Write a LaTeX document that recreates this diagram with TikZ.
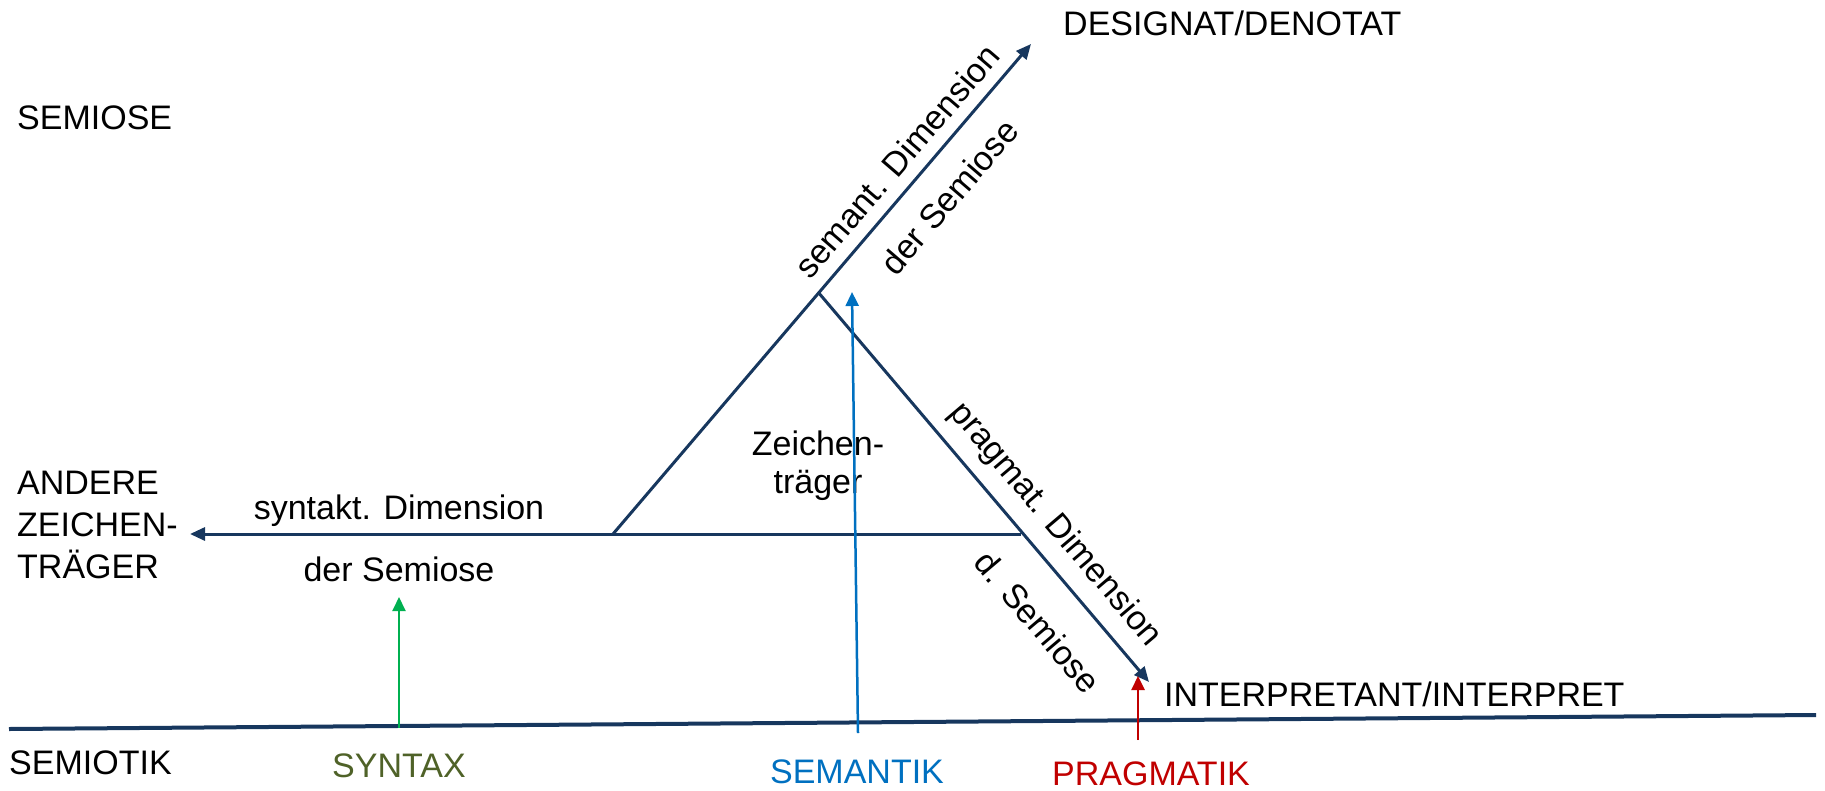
\documentclass[tikz,border=0pt]{standalone}
\usepackage{fontspec}
\setmainfont{Liberation Sans}
\usetikzlibrary{arrows.meta}
\definecolor{navy}{RGB}{23,55,94}
\definecolor{olivetxt}{RGB}{79,98,40}
\definecolor{sblue}{RGB}{0,112,192}
\definecolor{sred}{RGB}{192,0,0}
\definecolor{sgreen}{RGB}{0,176,80}
\begin{document}
\begin{tikzpicture}[x=1pt,y=-1pt,
  lbl/.style={font=\fontsize{34}{42}\selectfont, inner sep=0pt},
  mainline/.style={draw=navy, line width=3pt},
  navyarrow/.style={mainline, -{Triangle[length=15pt,width=13pt]}},
  colarrow/.style={line width=2.5pt, -{Triangle[length=14pt,width=13pt]}}]
\useasboundingbox (0,0) rectangle (1825,790);
% geometry
\coordinate (BL) at (613,534);
\coordinate (A) at (818,292);
\coordinate (BR) at (1021,534);
\coordinate (D) at (1031,44);
\coordinate (I) at (1149,682);
\coordinate (Z) at (190,534);
\coordinate (L0) at (9,729);
\coordinate (L1) at (1816,715);
% triangle and dimension arrows
\draw[navyarrow] (BL) -- (D);
\draw[navyarrow] (A) -- (I);
\draw[navyarrow] (BR) -- (Z);
% semiotik baseline
\draw[draw=navy, line width=4pt] (L0) -- (L1);
% texts
\node[lbl, anchor=base west] (semiose) at (17,129) {SEMIOSE};
\node[lbl, anchor=base west] (designat) at (1063,35) {DESIGNAT/DENOTAT};
\node[lbl, anchor=north west, align=left] (andere) at (17,471) {ANDERE\\ZEICHEN-\\TRÄGER};
\node[lbl, anchor=base] (syntdim) at (399,519) {syntakt. Dimension};
\node[lbl, anchor=base] (syntsem) at (399,581) {der Semiose};
\node[lbl, anchor=base] (zeichen1) at (818,455) {Zeichen-};
\node[lbl, anchor=base] (zeichen2) at (818,493) {träger};
\node[lbl, anchor=base west] (interp) at (1164,706) {INTERPRETANT/INTERPRET};
\node[lbl, anchor=base west] (semiotik) at (9,774) {SEMIOTIK};
\node[lbl, anchor=base, text=olivetxt] (syntax) at (399,777) {SYNTAX};
\node[lbl, anchor=base, text=sblue] (semantik) at (857,783) {SEMANTIK};
\node[lbl, anchor=base, text=sred] (pragmatik) at (1151,785) {PRAGMATIK};
% rotated labels
\node[lbl, rotate=49.35] (semdim) at (897,161) {semant. Dimension};
\node[lbl, rotate=49.35] (semsem) at (949,197) {der Semiose};
\node[lbl, rotate=-49.7] (pragdim) at (1055,525) {pragmat. Dimension};
\node[lbl, rotate=-49.7] (pragsem) at (1038,622) {d. Semiose};
% coloured arrows
\coordinate (gS) at (399,728);
\coordinate (gT) at (399,597);
\coordinate (bS) at (858,733);
\coordinate (bT) at (852,292);
\coordinate (rS) at (1138,740);
\coordinate (rT) at (1138,676);
\draw[colarrow, draw=sgreen, fill=sgreen, line width=2pt] (gS) -- (gT);
\draw[colarrow, draw=sblue, fill=sblue] (bS) -- (bT);
\draw[colarrow, draw=sred, fill=sred] (rS) -- (rT);
\end{tikzpicture}
\end{document}
